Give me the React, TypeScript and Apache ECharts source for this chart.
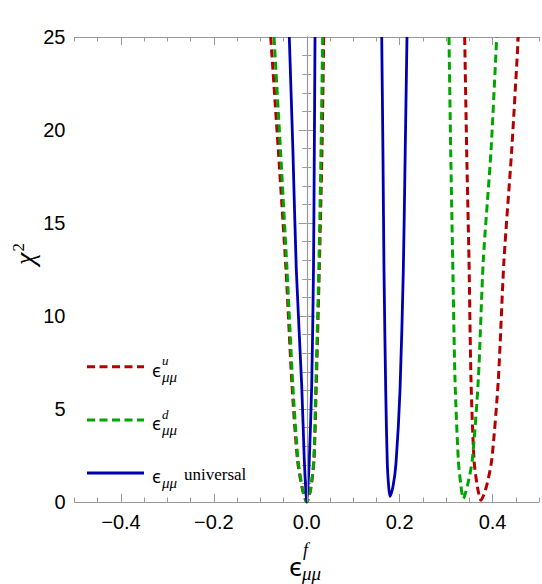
import React, { useEffect, useRef } from "react";
import * as echarts from "echarts";

// Labelled positions on the ϵ axis
const xLabelTicks = [-0.4, -0.2, 0, 0.2, 0.4];

// χ² profiles, each point is [ϵ, χ²]
const upCentral = [
  [-0.0776, 25], [-0.0612, 18.9], [-0.0447, 12.5], [-0.0318, 6.3], [-0.0199, 2.26],
  [-0.0095, 0.7], [0, 0], [0.0085, 0.7], [0.0156, 2.26], [0.0205, 6.3],
  [0.027, 12.5], [0.0328, 18.9], [0.0365, 25],
];
const upShifted = [
  [0.34, 25], [0.3443, 18.9], [0.3493, 13.0], [0.3536, 6.56], [0.3601, 2.26],
  [0.3675, 0.8], [0.3751, 0.1], [0.3865, 0.8], [0.3982, 2.26], [0.4124, 6.56],
  [0.4246, 13.0], [0.4412, 18.9], [0.4554, 25],
];
const downCentral = [
  [-0.0705, 25], [-0.0565, 18.9], [-0.0425, 12.5], [-0.03, 6.3], [-0.0188, 2.26],
  [-0.009, 0.7], [0, 0], [0.0082, 0.7], [0.0152, 2.26], [0.0196, 6.3],
  [0.026, 12.5], [0.0307, 18.9], [0.0343, 25],
];
const downShifted = [
  [0.3062, 25], [0.3099, 18.9], [0.3142, 13.0], [0.3192, 6.56], [0.3263, 2.26],
  [0.3318, 0.9], [0.337, 0.18], [0.346, 0.9], [0.3564, 2.26], [0.3693, 6.56],
  [0.3801, 13.0], [0.3967, 18.9], [0.4089, 25],
];
const universalCentral = [
  [-0.0376, 25], [-0.0298, 18.9], [-0.0225, 12.5], [-0.0109, 6.3], [-0.0053, 2.26],
  [-0.002, 0.6], [0, 0], [0.002, 0.6], [0.0055, 2.26], [0.0107, 6.3],
  [0.0145, 12.5], [0.0163, 18.9], [0.0178, 25],
];
const universalShifted = [
  [0.1614, 25], [0.164, 18.9], [0.1663, 12.47], [0.17, 6.02], [0.1734, 2.08],
  [0.1765, 0.8], [0.1792, 0.3], [0.1855, 0.8], [0.1921, 2.08], [0.2008, 6.02],
  [0.2079, 12.47], [0.212, 18.9], [0.2158, 25],
];

const RED = "#b30000";
const GREEN = "#00a600";
const BLUE = "#0000b3";
const FRAME = "#999999";
const SANS = "'Liberation Sans', Arial, sans-serif";
const SERIF = "'Liberation Serif', 'Times New Roman', serif";
const GREEK = "'Noto Sans', 'DejaVu Sans', sans-serif";
const DASH = [8, 4.5];

const GRID = { left: 74.5, top: 37, width: 464.5, height: 465 };

function fmtX(v: number): string {
  if (Math.abs(v) < 1e-9) return "0.0";
  return (v < 0 ? "\u2212" : "") + Math.abs(v).toFixed(1);
}

function curve(data: number[][], color: string, dashed: boolean, extra: any = {}) {
  return {
    type: "line",
    data,
    xAxisIndex: 0,
    yAxisIndex: 0,
    symbol: "none",
    smooth: 0.25,
    clip: true,
    lineStyle: { color, width: dashed ? 3 : 2.8, type: dashed ? DASH : "solid", cap: "butt" },
    silent: true,
    ...extra,
  };
}

function legendRow(y: number, color: string, dashed: boolean, sup: string | null, tail: string | null) {
  const items: any[] = [
    {
      type: "line",
      shape: { x1: 87, y1: y, x2: 144, y2: y },
      style: { stroke: color, lineWidth: dashed ? 3 : 2.8, lineDash: dashed ? DASH : null },
    },
    {
      type: "text",
      x: 152,
      y: y + 3,
      style: { text: "ϵ", font: `normal 18px ${GREEK}`, fill: "#000", verticalAlign: "middle" },
    },
    {
      type: "text",
      x: 162,
      y: y + 10,
      style: { text: "μμ", font: `italic 15px ${SERIF}`, fill: "#000", verticalAlign: "middle" },
    },
  ];
  if (sup) {
    items.push({
      type: "text",
      x: 162,
      y: y - 6,
      style: { text: sup, font: `italic 13px ${SERIF}`, fill: "#000", verticalAlign: "middle" },
    });
  }
  if (tail) {
    items.push({
      type: "text",
      x: 184,
      y: y + 1,
      style: { text: tail, font: `17px ${SERIF}`, fill: "#000", verticalAlign: "middle" },
    });
  }
  return items;
}

export default function App() {
  const ref = useRef<HTMLDivElement>(null);

  useEffect(() => {
    if (!ref.current) return;
    const chart = echarts.init(ref.current, null, { renderer: "svg" });

    const xBase = { type: "value", min: -0.5, max: 0.5, gridIndex: 0, splitLine: { show: false } };
    const yBase = {
      type: "value",
      min: 0,
      max: 25,
      interval: 5,
      gridIndex: 0,
      splitLine: { show: false },
      axisLine: { show: true, lineStyle: { color: FRAME, width: 1 } },
      axisTick: { show: true, inside: true, length: 8, lineStyle: { color: FRAME } },
      minorTick: { show: true, splitNumber: 5, length: 4.5, lineStyle: { color: FRAME } },
    };

    chart.setOption({
      animation: false,
      backgroundColor: "#ffffff",
      grid: { ...GRID, containLabel: false },
      xAxis: [
        {
          ...xBase,
          position: "bottom",
          axisLine: { show: true, onZero: false, lineStyle: { color: FRAME, width: 1 } },
          axisTick: { show: true, inside: true, length: 8, customValues: xLabelTicks, lineStyle: { color: FRAME } },
          axisLabel: {
            show: true,
            customValues: xLabelTicks,
            formatter: fmtX,
            fontSize: 20,
            fontFamily: SANS,
            color: "#000",
            margin: 10,
          },
        },
        {
          ...xBase,
          position: "bottom",
          interval: 0.05,
          axisLine: { show: false, onZero: false },
          axisTick: { show: true, inside: true, length: 4.5, lineStyle: { color: FRAME } },
          axisLabel: { show: false },
        },
        {
          ...xBase,
          position: "top",
          axisLine: { show: true, onZero: false, lineStyle: { color: FRAME, width: 1 } },
          axisTick: { show: true, inside: true, length: 8, customValues: xLabelTicks, lineStyle: { color: FRAME } },
          axisLabel: { show: false },
        },
        {
          ...xBase,
          position: "top",
          interval: 0.05,
          axisLine: { show: false, onZero: false },
          axisTick: { show: true, inside: true, length: 4.5, lineStyle: { color: FRAME } },
          axisLabel: { show: false },
        },
      ],
      yAxis: [
        {
          ...yBase,
          position: "left",
          axisLabel: { show: true, fontSize: 20, fontFamily: SANS, color: "#000", margin: 9 },
        },
        {
          ...yBase,
          position: "right",
          axisLabel: { show: false },
        },
      ],
      series: [
        curve(upCentral, RED, true, {
          markLine: {
            silent: true,
            symbol: "none",
            label: { show: false },
            lineStyle: { color: "#999999", width: 1.2, type: "solid" },
            data: [{ xAxis: 0 }],
          },
        }),
        curve(upShifted, RED, true),
        curve(downCentral, GREEN, true),
        curve(downShifted, GREEN, true),
        curve(universalCentral, BLUE, false),
        curve(universalShifted, BLUE, false),
      ],
      graphic: [
        // vertical axis title χ²
        {
          type: "text",
          x: 24,
          y: 254,
          rotation: Math.PI / 2,
          style: {
            text: "{c|χ}{s|2}",
            align: "center",
            verticalAlign: "middle",
            rich: {
              c: { font: `italic 28px ${SERIF}`, fill: "#000", verticalAlign: "bottom" },
              s: { font: `17px ${SERIF}`, fill: "#000", verticalAlign: "top", padding: [0, 0, 10, 1] },
            },
          },
        },
        // horizontal axis title ϵ^f_μμ
        {
          type: "text",
          x: 289,
          y: 566,
          style: { text: "ϵ", font: `normal 26px ${GREEK}`, fill: "#000", verticalAlign: "middle" },
        },
        {
          type: "text",
          x: 303,
          y: 550,
          style: { text: "f", font: `italic 18px ${SERIF}`, fill: "#000", verticalAlign: "middle" },
        },
        {
          type: "text",
          x: 302,
          y: 573,
          style: { text: "μμ", font: `italic 19px ${SERIF}`, fill: "#000", verticalAlign: "middle" },
        },
        ...legendRow(366.7, RED, true, "u", null),
        ...legendRow(420, GREEN, true, "d", null),
        ...legendRow(473, BLUE, false, null, "universal"),
      ],
    });

    return () => chart.dispose();
  }, []);

  return (
    <div
      ref={ref}
      style={{ position: "absolute", left: 0, top: 0, width: 542, height: 584, background: "#fff" }}
    />
  );
}
